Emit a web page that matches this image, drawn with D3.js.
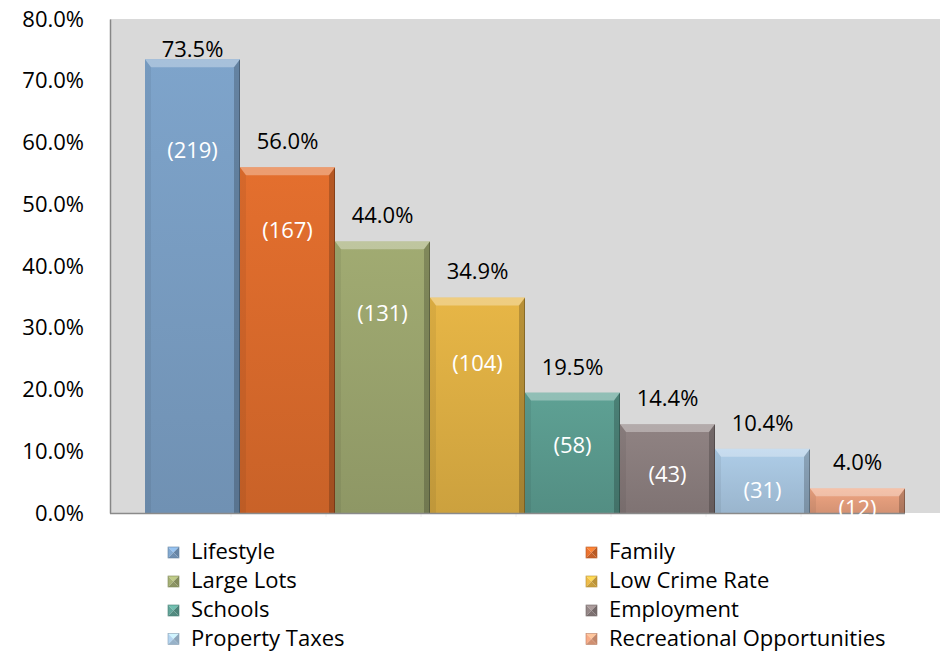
<!DOCTYPE html>
<html><head><meta charset="utf-8">
<script src="https://cdn.jsdelivr.net/npm/d3@7/dist/d3.min.js"></script>
<style>
html,body{margin:0;padding:0;background:#fff;}
svg{display:block;font-family:"Open Sans",sans-serif;}
</style></head>
<body><svg id="c" width="944" height="656"></svg>
<script>
const categories = ["Lifestyle","Family","Large Lots","Low Crime Rate","Schools","Employment","Property Taxes","Recreational Opportunities"];
const percents = [73.5, 56.0, 44.0, 34.9, 19.5, 14.4, 10.4, 4.0];
const counts = [219, 167, 131, 104, 58, 43, 31, 12];
const countLabelAt = [58.8, 45.8, 32.4, 24.3, 11.0, 6.2, 3.7, 0.8];
const colors = ["#7a9ec4","#dc6b2c","#9ba56e","#dfb044","#5b9b8f","#8b7e7e","#a8c6e0","#e8a07e"];
const yTicks = [0,10,20,30,40,50,60,70,80];

const svg = d3.select("#c");
const plot = {left:110, right:940, top:19, bottom:513};
const barStart = 145, barEnd = 905;

const x = d3.scaleBand().domain(categories).range([barStart, barEnd]).padding(0);
const y = d3.scaleLinear().domain([0,80]).range([plot.bottom, plot.top]);

const defs = svg.append("defs");
colors.forEach((c,i)=>{
  const g = defs.append("linearGradient").attr("id","g"+i).attr("x1",0).attr("y1",0).attr("x2",0).attr("y2",1);
  g.append("stop").attr("offset","0%").attr("stop-color", d3.color(c).brighter(0.1));
  g.append("stop").attr("offset","100%").attr("stop-color", d3.color(c).darker(0.25));
});

// plot background
svg.append("rect").attr("x",plot.left).attr("y",plot.top)
  .attr("width",plot.right-plot.left).attr("height",plot.bottom-plot.top)
  .attr("fill","#d9d9d9");

// y axis
const yAxis = d3.axisLeft(y).tickValues(yTicks).tickSize(0).tickPadding(26)
  .tickFormat(d=>d3.format(".1f")(d)+"%");
const ya = svg.append("g").attr("transform",`translate(${plot.left},0)`).call(yAxis);
ya.select(".domain").attr("stroke","#868686").attr("stroke-width",1.5);
ya.selectAll("text").attr("font-size",22).attr("fill","#000").attr("font-family","'Open Sans',sans-serif");

// ghost outlines (faint edges left of each bar)
const ghosts = svg.append("g");
categories.forEach((c,i)=>{
  if(i===0) return;
  const gx = x(c)-9, gy = y(percents[i])-4;
  ghosts.append("path").attr("d",`M${gx},${plot.bottom+4}V${gy}H${x(c)}`)
    .attr("fill","none").attr("stroke","#eeeeee").attr("stroke-width",0.9);
});

// bars
const bars = svg.append("g");
categories.forEach((c,i)=>{
  const bx = x(c), bw = x.bandwidth(), by = y(percents[i]), bh = plot.bottom - by;
  const g = bars.append("g");
  g.append("rect").attr("x",bx).attr("y",by).attr("width",bw).attr("height",bh).attr("fill",`url(#g${i})`);
  const b = Math.min(8, bh/2), s = 6;
  g.append("polygon").attr("points",[[bx,by],[bx+bw,by],[bx+bw-s,by+b],[bx+s,by+b]].map(p=>p.join(",")).join(" "))
    .attr("fill","#fff").attr("opacity",0.32);
  g.append("polygon").attr("points",[[bx,by],[bx+s,by+b],[bx+s,by+bh],[bx,by+bh]].map(p=>p.join(",")).join(" "))
    .attr("fill","#000").attr("opacity",0.06);
  g.append("polygon").attr("points",[[bx+bw,by],[bx+bw,by+bh],[bx+bw-s,by+bh],[bx+bw-s,by+b]].map(p=>p.join(",")).join(" "))
    .attr("fill","#000").attr("opacity",0.2);
  g.append("line").attr("x1",bx+bw-0.5).attr("x2",bx+bw-0.5).attr("y1",by+1).attr("y2",by+bh)
    .attr("stroke","#000").attr("opacity",0.25);
});

// x axis line
svg.append("line").attr("x1",plot.left).attr("x2",barEnd).attr("y1",plot.bottom+0.5).attr("y2",plot.bottom+0.5)
  .attr("stroke","#8a8a8a").attr("stroke-width",1.5);

// percent labels
svg.append("g").selectAll("text").data(categories).join("text")
  .attr("x",c=>x(c)+x.bandwidth()/2)
  .attr("y",(c,i)=>Math.max(y(percents[i])-18, y(80)+38))
  .attr("text-anchor","middle").attr("font-size",22).attr("fill","#000")
  .text((c,i)=>d3.format(".1f")(percents[i])+"%");

// count labels
svg.append("g").selectAll("text").data(categories).join("text")
  .attr("x",c=>x(c)+x.bandwidth()/2)
  .attr("y",(c,i)=>y(countLabelAt[i]))
  .attr("dy","0.35em")
  .attr("text-anchor","middle").attr("font-size",22).attr("fill","#fff")
  .text((c,i)=>"("+counts[i]+")");

// legend
const legend = svg.append("g");
const colX = [168, 586];
const rowY = [559, 588, 617, 645.5];
categories.forEach((c,i)=>{
  const cx = colX[i%2], ry = rowY[Math.floor(i/2)];
  const m = 11, mx = cx, my = ry - 12;
  const col = d3.color(colors[i]);
  const ctr = [mx+m/2, my+m/2];
  const tri = (pts, fill)=>legend.append("polygon").attr("points",pts.map(p=>p.join(",")).join(" ")).attr("fill",fill);
  tri([[mx,my],[mx+m,my],ctr], col.brighter(0.6));
  tri([[mx,my],[mx,my+m],ctr], col.brighter(0.2));
  tri([[mx+m,my],[mx+m,my+m],ctr], col.darker(0.5));
  tri([[mx,my+m],[mx+m,my+m],ctr], col.darker(0.3));
  legend.append("rect").attr("x",mx).attr("y",my).attr("width",m).attr("height",m)
    .attr("fill","none").attr("stroke",col.darker(0.6)).attr("stroke-width",0.6);
  legend.append("text").attr("x",cx+23).attr("y",ry).attr("font-size",22).attr("fill","#000").text(c);
});
</script></body></html>
